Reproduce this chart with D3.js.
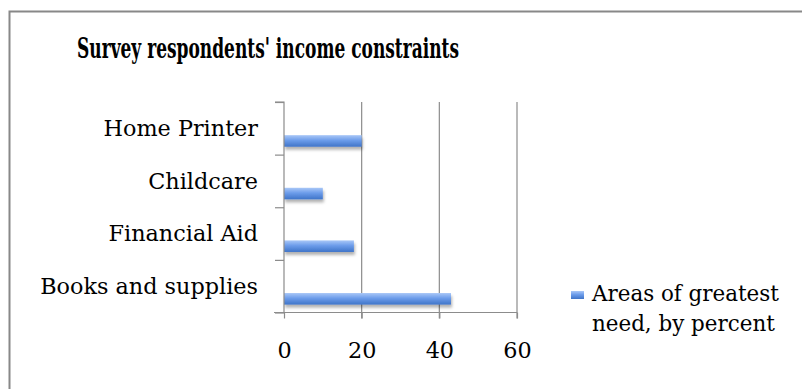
<!DOCTYPE html>
<html><head><meta charset="utf-8">
<script src="https://cdn.jsdelivr.net/npm/d3@7"></script>
<style>body{margin:0;background:#fff}svg{display:block}text{font-family:"DejaVu Serif","Liberation Serif",serif;fill:#000}</style>
</head><body><svg id="c" width="802" height="389"></svg>
<script>
const categories = ["Books and supplies", "Financial Aid", "Childcare", "Home Printer"];
const values = [43, 18, 10, 20];
const xTicks = [0, 20, 40, 60];
const seriesName = ["Areas of greatest", "need, by percent"];
const title = "Survey respondents' income constraints";

const svg = d3.select("#c");
const defs = svg.append("defs");
const g1 = defs.append("linearGradient").attr("id","bg").attr("x1",0).attr("y1",0).attr("x2",0).attr("y2",1);
g1.append("stop").attr("offset","0%").attr("stop-color","#a9c7f7");
g1.append("stop").attr("offset","45%").attr("stop-color","#6c9cea");
g1.append("stop").attr("offset","100%").attr("stop-color","#3f74c8");
const f = defs.append("filter").attr("id","sh").attr("x","-10%").attr("y","-50%").attr("width","130%").attr("height","250%");
f.append("feDropShadow").attr("dx",1).attr("dy",3).attr("stdDeviation",1.5).attr("flood-color","#000").attr("flood-opacity",0.3);

function fit(sel, target) {
  const n = sel.node();
  const fs = parseFloat(sel.attr("font-size"));
  const w = n.getComputedTextLength();
  sel.attr("font-size", (fs * target / w).toFixed(2));
}

// frame
svg.append("rect").attr("x",9.5).attr("y",11.5).attr("width",820).attr("height",400)
  .attr("fill","none").attr("stroke","#888").attr("stroke-width",2);

// title
svg.append("text").attr("x",268).attr("y",58).attr("text-anchor","middle")
  .attr("font-family","Liberation Serif, serif")
  .attr("font-size",27).attr("font-weight","bold")
  .attr("textLength",382).attr("lengthAdjust","spacingAndGlyphs").text(title);

const pL = 284, pR = 517, pT = 102, pB = 312.5;
const x = d3.scaleLinear().domain([0,60]).range([pL,pR]);
const y = d3.scaleBand().domain(categories).range([pB, pT]);

// gridlines
svg.append("g").selectAll("line").data(xTicks.slice(1)).join("line")
  .attr("x1",d=>x(d)).attr("x2",d=>x(d)).attr("y1",pT).attr("y2",pB+6)
  .attr("stroke","#8c8c8c").attr("stroke-width",1.2);

// bars
svg.append("g").selectAll("rect").data(categories).join("rect")
  .attr("x",x(0)).attr("y",(d)=>y(d)+y.bandwidth()*0.63)
  .attr("width",(d,i)=>x(values[i])-x(0)).attr("height",y.bandwidth()*0.22)
  .attr("fill","url(#bg)").attr("filter","url(#sh)");

// y axis
const ya = svg.append("g").attr("transform",`translate(${pL},0)`)
  .call(d3.axisLeft(d3.scaleLinear().domain([0,4]).range([pB,pT])).ticks(4).tickSize(9).tickFormat(""));
ya.select(".domain").attr("stroke","#8c8c8c").attr("stroke-width",1.2).attr("d",`M-9,${pT}H0V${pB}`);
ya.selectAll(".tick line").attr("stroke","#8c8c8c").attr("stroke-width",1.2);

// category labels
const cl = svg.append("g").selectAll("text").data(categories).join("text")
  .attr("x",258).attr("y",d=>y(d)+y.bandwidth()/2).attr("dy","0.35em")
  .attr("text-anchor","end").attr("font-size",18).text(d=>d);
const probe = cl.filter(d=>d==="Books and supplies");
fit(probe, 218);
cl.attr("font-size", probe.attr("font-size"));

// x axis
const xa = svg.append("g").attr("transform",`translate(0,${pB})`)
  .call(d3.axisBottom(x).tickValues(xTicks).tickSize(6).tickPadding(24));
xa.select(".domain").attr("stroke","#8c8c8c").attr("stroke-width",1.2).attr("d",`M${pL-10},0H${pR}`);
xa.selectAll(".tick line").attr("stroke","#8c8c8c").attr("stroke-width",1.2);
xa.selectAll(".tick text").attr("font-size",probe.attr("font-size")).attr("font-family","DejaVu Serif, serif").attr("fill","#000");

// legend
svg.append("rect").attr("x",571).attr("y",291).attr("width",13).attr("height",8).attr("fill","url(#bg)");
const lt = svg.append("g").selectAll("text").data(seriesName).join("text")
  .attr("x",592).attr("y",(d,i)=>293+i*30).attr("dy","0.35em").attr("font-size",18).text(d=>d);
const lp = lt.filter((d,i)=>i===0);
fit(lp, 187);
lt.attr("font-size", lp.attr("font-size"));
</script></body></html>
